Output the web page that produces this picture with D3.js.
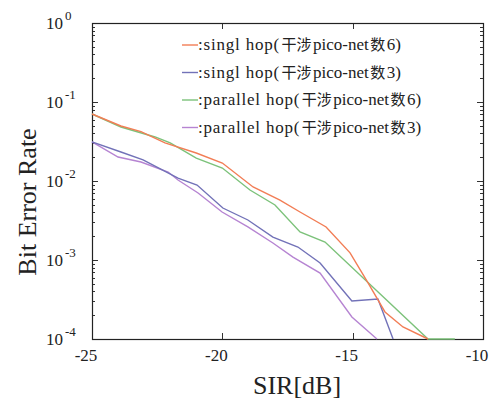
<!DOCTYPE html>
<html>
<head>
	<script src="https://cdnjs.cloudflare.com/ajax/libs/d3/7.8.2/d3.min.js"></script>
	<style>
		body { margin: 0 ; background: #fff ; }
		svg { display: block ; }
	</style>
</head>
<body>
	<svg id="canvas"></svg>
</body>
<script>
	// series: SIR [dB] and bit error rate
	let sirSingle6 = [ -25, -23.89, -23.12, -22.2, -21.0, -20.0, -18.82, -17.79, -17.02, -16.02, -15.1, -14.41, -13.76, -13.07, -12.11 ] ;
	let berSingle6 = [ 0.0705, 0.0497, 0.0421, 0.0303, 0.0226, 0.0169, 0.0084, 0.00574, 0.00405, 0.00262, 0.00123, 0.000512, 0.00022, 0.000142, 0.0001 ] ;

	let sirSingle3 = [ -25, -23.89, -23.04, -21.7, -20.97, -19.98, -19.02, -18.06, -17.1, -16.25, -15.03, -14.03, -13.45 ] ;
	let berSingle3 = [ 0.0312, 0.0233, 0.0185, 0.0109, 0.00889, 0.00455, 0.00321, 0.00195, 0.00146, 0.000916, 0.000303, 0.000321, 0.0001 ] ;

	let sirParallel6 = [ -25, -23.89, -22.58, -22.0, -21.0, -20.0, -18.94, -17.98, -17.02, -16.06, -12.11, -11.08 ] ;
	let berParallel6 = [ 0.0705, 0.0483, 0.0361, 0.0303, 0.0195, 0.0146, 0.00769, 0.00497, 0.00226, 0.00169, 0.0001, 0.0001 ] ;

	let sirParallel3 = [ -25, -24.0, -23.12, -22.08, -21.7, -20.93, -20.01, -19.02, -18.06, -17.29, -16.25, -15.03, -14.07 ] ;
	let berParallel3 = [ 0.0312, 0.0201, 0.0174, 0.0130, 0.0103, 0.00705, 0.00405, 0.00262, 0.00164, 0.00109, 0.000684, 0.00019, 0.0001 ] ;

	let legendLabels = [
		[ ":singl hop(", "干涉", "pico-net", "数", "6)" ],
		[ ":singl hop(", "干涉", "pico-net", "数", "3)" ],
		[ ":parallel hop(", "干涉", "pico-net", "数", "6)" ],
		[ ":parallel hop(", "干涉", "pico-net", "数", "3)" ]
	] ;
	let colours = [ "#f27d55", "#7272b8", "#7cc27a", "#b684d2" ] ;

	let xTicks = [ -25, -20, -15, -10 ] ;
	let yExponents = [ 0, -1, -2, -3, -4 ] ;

	const SERIF = "'Liberation Serif', 'Times New Roman', Times, serif" ;
	const CJK = "'Noto Sans CJK SC', sans-serif" ;

	let geom = {
		width: 492,
		height: 403,
		margin: { left: 92, right: 9, top: 23, bottom: 64 }
	} ;

	let scales = {
		x: d3.scaleLinear()
			.domain( [ -25, -10 ] )
			.range( [ geom.margin.left, geom.width - geom.margin.right ] ),
		y: d3.scaleLog()
			.domain( [ 1e-4, 1 ] )
			.range( [ geom.height - geom.margin.bottom, geom.margin.top ] )
	} ;

	let svg = d3.select( 'svg' )
		.attr( 'width', geom.width )
		.attr( 'height', geom.height )
		.attr( 'font-family', SERIF ) ;

	let x0 = scales.x.range()[0], x1 = scales.x.range()[1] ;
	let y0 = scales.y.range()[0], y1 = scales.y.range()[1] ;

	// minor log ticks (2..9 each decade)
	let minor = scales.y.ticks().filter( v => Math.abs( Math.log10( v ) - Math.round( Math.log10( v ) ) ) > 1e-6 ) ;

	let tickGroup = svg.append( 'g' ).attr( 'stroke', '#333' ).attr( 'stroke-width', 1 ) ;
	minor.forEach( v => {
		let y = Math.round( scales.y( v ) ) + 0.5 ;
		tickGroup.append( 'line' ).attr( 'x1', x0 ).attr( 'x2', x0 + 3 ).attr( 'y1', y ).attr( 'y2', y ) ;
		tickGroup.append( 'line' ).attr( 'x1', x1 ).attr( 'x2', x1 - 3 ).attr( 'y1', y ).attr( 'y2', y ) ;
	} ) ;
	yExponents.forEach( e => {
		let y = Math.round( scales.y( Math.pow( 10, e ) ) ) + 0.5 ;
		tickGroup.append( 'line' ).attr( 'x1', x0 ).attr( 'x2', x0 + 6 ).attr( 'y1', y ).attr( 'y2', y ) ;
		tickGroup.append( 'line' ).attr( 'x1', x1 ).attr( 'x2', x1 - 6 ).attr( 'y1', y ).attr( 'y2', y ) ;
	} ) ;
	xTicks.forEach( t => {
		let x = Math.round( scales.x( t ) ) + 0.5 ;
		tickGroup.append( 'line' ).attr( 'x1', x ).attr( 'x2', x ).attr( 'y1', y0 ).attr( 'y2', y0 - 6 ) ;
		tickGroup.append( 'line' ).attr( 'x1', x ).attr( 'x2', x ).attr( 'y1', y1 ).attr( 'y2', y1 + 6 ) ;
	} ) ;

	// frame
	svg.append( 'rect' )
		.attr( 'x', x0 + 0.5 ).attr( 'y', y1 + 0.5 )
		.attr( 'width', x1 - x0 ).attr( 'height', y0 - y1 )
		.attr( 'fill', 'none' ).attr( 'stroke', '#222' ).attr( 'stroke-width', 1.2 ) ;

	// x tick labels (digits centred under the tick, minus sign hangs left)
	svg.append( 'g' ).selectAll( 'text' )
		.data( xTicks ).enter().append( 'text' )
		.attr( 'x', d => scales.x( d ) - 6 )
		.attr( 'y', 361 )
		.attr( 'text-anchor', 'middle' )
		.attr( 'font-size', 17 )
		.attr( 'fill', '#222' )
		.text( d => d ) ;

	// y tick labels: 10 with raised exponent
	let yl = svg.append( 'g' ).selectAll( 'text' )
		.data( yExponents ).enter().append( 'text' )
		.attr( 'x', 46 )
		.attr( 'y', d => scales.y( Math.pow( 10, d ) ) + 6 )
		.attr( 'font-size', 17 )
		.attr( 'fill', '#222' ) ;
	yl.append( 'tspan' ).text( '10' ) ;
	yl.append( 'tspan' )
		.attr( 'dx', 2 ).attr( 'dy', -9 )
		.attr( 'font-size', 13 )
		.text( d => d == 0 ? '0' : d ) ;

	// axis titles
	svg.append( 'text' )
		.attr( 'x', 297 ).attr( 'y', 394 )
		.attr( 'text-anchor', 'middle' )
		.attr( 'font-size', 26 )
		.attr( 'fill', '#222' )
		.text( 'SIR[dB]' ) ;
	svg.append( 'text' )
		.attr( 'transform', 'translate(36,202) rotate(-90)' )
		.attr( 'text-anchor', 'middle' )
		.attr( 'font-size', 26 )
		.attr( 'fill', '#222' )
		.text( 'Bit Error Rate' ) ;

	// lines
	let series = [
		[ sirSingle6, berSingle6 ],
		[ sirSingle3, berSingle3 ],
		[ sirParallel6, berParallel6 ],
		[ sirParallel3, berParallel3 ]
	] ;
	let line = d3.line()
		.x( d => scales.x( d[0] ) )
		.y( d => scales.y( d[1] ) ) ;
	// draw in reverse so orange sits on top like the reference
	[ 3, 2, 1, 0 ].forEach( i => {
		let pts = series[i][0].map( ( s, k ) => [ s, series[i][1][k] ] ) ;
		svg.append( 'path' )
			.attr( 'd', line( pts ) )
			.attr( 'fill', 'none' )
			.attr( 'stroke', colours[i] )
			.attr( 'stroke-width', 1.4 ) ;
	} ) ;

	// legend
	let legend = svg.append( 'g' ) ;
	legendLabels.forEach( ( parts, i ) => {
		let y = 45 + i * 27.5 ;
		legend.append( 'line' )
			.attr( 'x1', 182 ).attr( 'x2', 198 )
			.attr( 'y1', y ).attr( 'y2', y )
			.attr( 'stroke', colours[i] ).attr( 'stroke-width', 1.4 ) ;
		let t = legend.append( 'text' )
			.attr( 'x', 198 ).attr( 'y', y + 5 )
			.attr( 'font-size', 17 )
			.attr( 'fill', '#222' ) ;
		parts.forEach( ( p, k ) => {
			let cjk = ( k == 1 || k == 3 ) ;
			t.append( 'tspan' )
				.attr( 'font-family', cjk ? CJK : SERIF )
				.attr( 'font-size', cjk ? 15 : 17 )
				.attr( 'letter-spacing', k == 0 ? 0.8 : 0 )
				.attr( 'dx', k > 0 ? 1.5 : 0 )
				.text( p ) ;
		} ) ;
	} ) ;
</script>
</html>
